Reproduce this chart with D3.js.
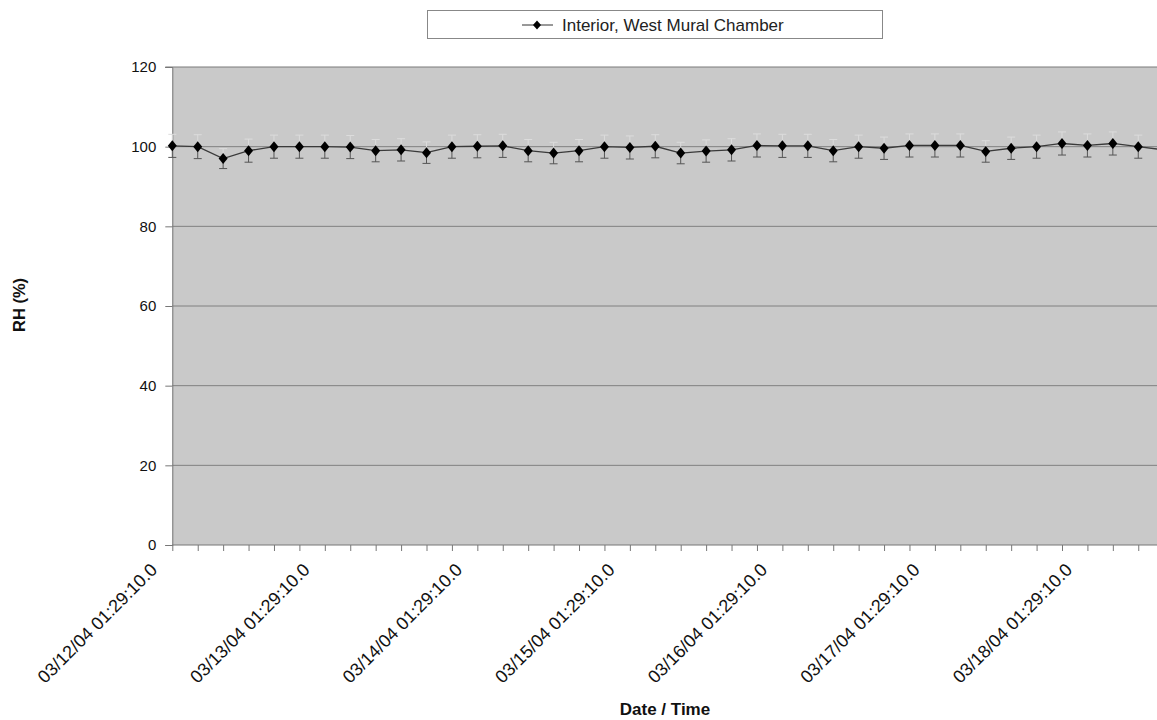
<!DOCTYPE html>
<html><head><meta charset="utf-8">
<script src="https://cdn.jsdelivr.net/npm/d3@7"></script>
<style>body{margin:0;background:#fff;} svg{display:block;font-family:Arial,"Liberation Sans",sans-serif;}</style>
</head><body><svg id="c" width="1157" height="720"></svg>
<script>
const categories = [
"03/12/04 01:29:10.0","03/12/04 05:29:10.0","03/12/04 09:29:10.0","03/12/04 13:29:10.0","03/12/04 17:29:10.0","03/12/04 21:29:10.0",
"03/13/04 01:29:10.0","03/13/04 05:29:10.0","03/13/04 09:29:10.0","03/13/04 13:29:10.0","03/13/04 17:29:10.0","03/13/04 21:29:10.0",
"03/14/04 01:29:10.0","03/14/04 05:29:10.0","03/14/04 09:29:10.0","03/14/04 13:29:10.0","03/14/04 17:29:10.0","03/14/04 21:29:10.0",
"03/15/04 01:29:10.0","03/15/04 05:29:10.0","03/15/04 09:29:10.0","03/15/04 13:29:10.0","03/15/04 17:29:10.0","03/15/04 21:29:10.0",
"03/16/04 01:29:10.0","03/16/04 05:29:10.0","03/16/04 09:29:10.0","03/16/04 13:29:10.0","03/16/04 17:29:10.0","03/16/04 21:29:10.0",
"03/17/04 01:29:10.0","03/17/04 05:29:10.0","03/17/04 09:29:10.0","03/17/04 13:29:10.0","03/17/04 17:29:10.0","03/17/04 21:29:10.0",
"03/18/04 01:29:10.0","03/18/04 05:29:10.0","03/18/04 09:29:10.0","03/18/04 13:29:10.0"
];
const rhValues = [
100.2,100.0,97.0,99.0,100.0,100.0,100.0,99.9,99.0,99.2,98.5,100.0,100.1,
100.2,99.0,98.4,99.0,100.0,99.8,100.1,98.4,98.9,99.2,100.3,100.2,100.2,
99.0,100.0,99.6,100.3,100.3,100.3,98.8,99.6,100.0,100.8,100.3,100.8,100.0,99.2
];
const errValues = [
2.9,3.0,2.5,2.9,2.9,2.9,2.9,2.9,2.8,2.8,2.7,2.9,2.9,
2.9,2.8,2.7,2.8,2.9,2.9,2.9,2.7,2.8,2.8,2.9,2.9,2.9,
2.8,2.9,2.8,2.9,2.9,2.9,2.7,2.8,2.9,2.9,2.9,2.9,2.9,2.8
];
const xTickLabels = ["03/12/04 01:29:10.0","03/13/04 01:29:10.0","03/14/04 01:29:10.0","03/15/04 01:29:10.0","03/16/04 01:29:10.0","03/17/04 01:29:10.0","03/18/04 01:29:10.0"];
const yTicks = [0,20,40,60,80,100,120];
const seriesName = "Interior, West Mural Chamber";

const svg = d3.select("#c");
const L = 172.3, T = 67, B = 545;
const x = d3.scalePoint().domain(categories).range([L, L + 25.42*(categories.length-1)]);
const y = d3.scaleLinear().domain([0,120]).range([B, T]);

// plot area
svg.append("rect").attr("x", L).attr("y", T).attr("width", 1157-L).attr("height", B-T).attr("fill", "#c9c9c9");
// gridlines
svg.append("g").selectAll("line").data(yTicks.filter(d=>d>0 && d<120)).join("line")
  .attr("x1", L).attr("x2", 1157).attr("y1", d=>y(d)).attr("y2", d=>y(d))
  .attr("stroke", "#808080").attr("stroke-width", 1);
// top border
svg.append("line").attr("x1", L-7).attr("x2", 1157).attr("y1", y(120)).attr("y2", y(120)).attr("stroke", "#7a7a7a");

// Y axis
const yAxis = d3.axisLeft(y).tickValues(yTicks).tickSize(7).tickPadding(9);
const gy = svg.append("g").attr("transform", `translate(${L},0)`).call(yAxis);
gy.select(".domain").attr("stroke", "#777");
gy.selectAll(".tick line").attr("stroke", "#777");
gy.selectAll("text").attr("font-size", 15).attr("fill", "#111").attr("font-family", "Arial, Liberation Sans, sans-serif");

// X axis
const xAxis = d3.axisBottom(x).tickSize(6).tickFormat("");
const gx = svg.append("g").attr("transform", `translate(0,${B})`).call(xAxis);
gx.select(".domain").attr("stroke", "#777").attr("d", `M${L},0H1157`);
gx.selectAll(".tick line").attr("stroke", "#777");

// X tick labels
svg.append("g").selectAll("text").data(xTickLabels).join("text")
  .attr("transform", d => `translate(${x(d)-14},${B+26}) rotate(-45)`)
  .attr("text-anchor", "end").attr("font-size", 18).attr("fill", "#111")
  .text(d => d);

// error bars
const eg = svg.append("g");
categories.forEach((c,i) => {
  const cx = x(c), v = rhValues[i], e = errValues[i];
  eg.append("line").attr("x1", cx).attr("x2", cx).attr("y1", y(v)).attr("y2", y(v+e)).attr("stroke", "#dcdcdc");
  eg.append("line").attr("x1", cx-4).attr("x2", cx+4).attr("y1", y(v+e)).attr("y2", y(v+e)).attr("stroke", "#dcdcdc");
  eg.append("line").attr("x1", cx).attr("x2", cx).attr("y1", y(v)).attr("y2", y(v-e)).attr("stroke", "#555");
  eg.append("line").attr("x1", cx-4).attr("x2", cx+4).attr("y1", y(v-e)).attr("y2", y(v-e)).attr("stroke", "#555");
});

// line
const line = d3.line().x((d,i)=>x(categories[i])).y(d=>y(d));
svg.append("path").datum(rhValues).attr("d", line).attr("fill", "none").attr("stroke", "#3a3a3a").attr("stroke-width", 1.3);

// markers
const diamond = "M0,-5.5L4.5,0L0,5.5L-4.5,0Z";
svg.append("g").selectAll("path").data(rhValues).join("path")
  .attr("d", diamond).attr("transform", (d,i)=>`translate(${x(categories[i])},${y(d)})`).attr("fill", "#000");

// axis titles
svg.append("text").attr("transform", "translate(25,305) rotate(-90)").attr("text-anchor", "middle")
  .attr("font-size", 16.5).attr("font-weight", "bold").attr("fill", "#111").text("RH (%)");
svg.append("text").attr("x", 665).attr("y", 715).attr("text-anchor", "middle")
  .attr("font-size", 17).attr("font-weight", "bold").attr("fill", "#111").text("Date / Time");

// legend
const lg = svg.append("g");
lg.append("rect").attr("x", 427.5).attr("y", 10.5).attr("width", 455).attr("height", 28).attr("fill", "#fff").attr("stroke", "#888");
lg.append("line").attr("x1", 522).attr("x2", 553).attr("y1", 25).attr("y2", 25).attr("stroke", "#333");
lg.append("path").attr("d", "M0,-4.5L4,0L0,4.5L-4,0Z").attr("transform", "translate(537,25)").attr("fill", "#000");
lg.append("text").attr("x", 562).attr("y", 31).attr("font-size", 17).attr("fill", "#222").text(seriesName);
</script></body></html>
